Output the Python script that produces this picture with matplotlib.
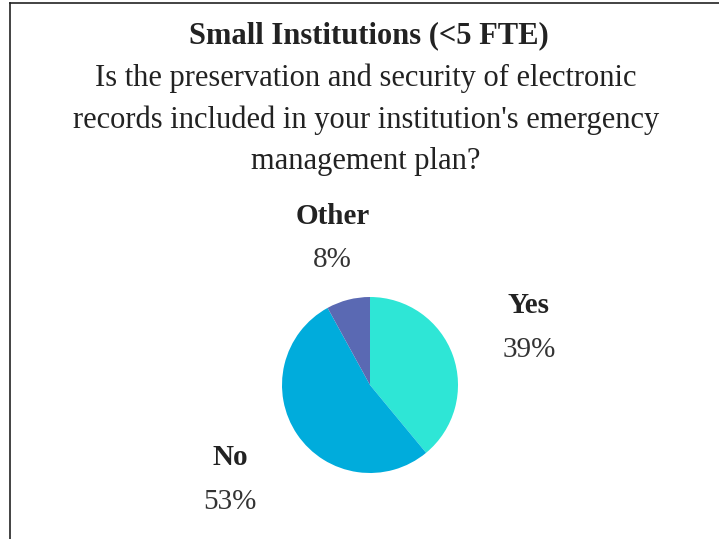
import numpy as np
import matplotlib.pyplot as plt
from matplotlib.lines import Line2D

# Survey answers
answers = ['Yes', 'No', 'Other']
shares = [39, 53, 8]
colors = ['#2ee6d6', '#00acdc', '#5a69b3']
label_dist = [1.92, 1.92, 1.72]

plt.rcParams['font.family'] = ['Liberation Serif', 'DejaVu Serif']

fig = plt.figure(figsize=(7.19, 5.39), dpi=100)
W, H = 719, 539

# frame lines (left and top only)
fig.add_artist(Line2D([10 / W, 10 / W], [0, 1 - 3 / H], color='#222222', lw=1.2))
fig.add_artist(Line2D([10 / W, 1], [1 - 3 / H, 1 - 3 / H], color='#222222', lw=1.2))

fig.text(369 / W, 1 - 36 / H, 'Small Institutions (<5 FTE)', ha='center', va='center',
         fontsize=22, fontweight='bold', color='#222222')
fig.text(366 / W, 1 - 120 / H,
         "Is the preservation and security of electronic\n"
         "records included in your institution's emergency\n"
         "management plan?",
         ha='center', va='center', fontsize=22, color='#222222', linespacing=1.55)

cx, cy, r = 370, 385, 88
ax = fig.add_axes([(cx - r) / W, (H - cy - r) / H, 2 * r / W, 2 * r / H])
wedges, _ = ax.pie(shares, colors=colors, startangle=90, counterclock=False,
                   wedgeprops=dict(linewidth=0))
ax.set_xlim(-1, 1)
ax.set_ylim(-1, 1)
ax.set_aspect('equal')

for w, name, val, d in zip(wedges, answers, shares, label_dist):
    ang = np.deg2rad((w.theta1 + w.theta2) / 2)
    x, y = d * np.cos(ang), d * np.sin(ang)
    ax.annotate(name, (x, y), xytext=(0, 22), textcoords='offset pixels',
                ha='center', va='center', fontsize=21, fontweight='bold',
                color='#222222', annotation_clip=False)
    ax.annotate(f'{val}%', (x, y), xytext=(0, -22), textcoords='offset pixels',
                ha='center', va='center', fontsize=21, color='#333333',
                annotation_clip=False)

fig.savefig('out.png', dpi=100)
